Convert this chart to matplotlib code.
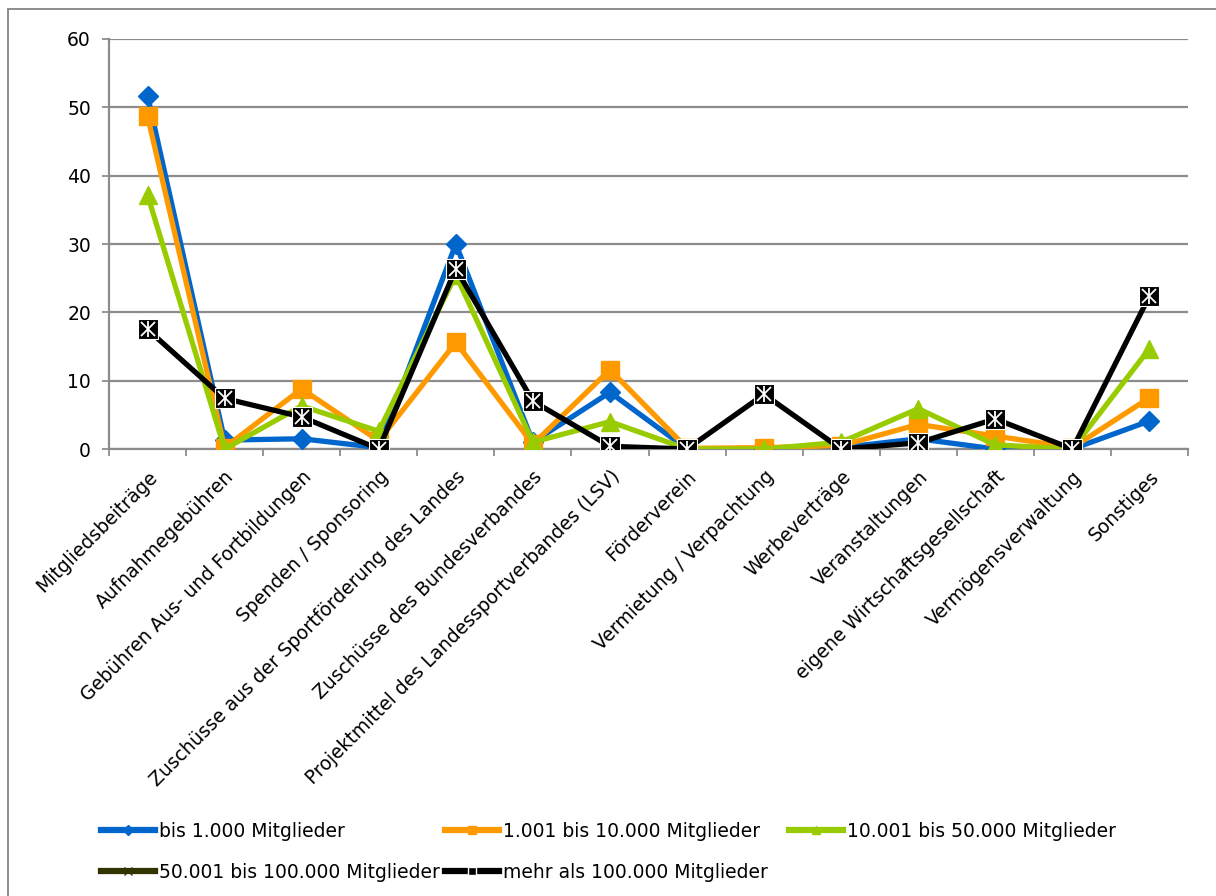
import numpy as np
import matplotlib
matplotlib.use("Agg")
import matplotlib.pyplot as plt
from matplotlib.lines import Line2D
from matplotlib.patches import Rectangle

plt.rcParams['font.family'] = ['DejaVu Sans']

categories = [
    "Mitgliedsbeiträge",
    "Aufnahmegebühren",
    "Gebühren Aus- und Fortbildungen",
    "Spenden / Sponsoring",
    "Zuschüsse aus der Sportförderung des Landes",
    "Zuschüsse des Bundesverbandes",
    "Projektmittel des Landessportverbandes (LSV)",
    "Förderverein",
    "Vermietung / Verpachtung",
    "Werbeverträge",
    "Veranstaltungen",
    "eigene Wirtschaftsgesellschaft",
    "Vermögensverwaltung",
    "Sonstiges",
]

bis_1000 = [51.7, 1.3, 1.5, 0.2, 30.0, 1.0, 8.3, 0.0, 0.0, 0.2, 1.5, 0.0, 0.0, 4.1]
bis_10000 = [48.7, 0.2, 8.8, 1.2, 15.6, 0.7, 11.6, 0.1, 0.2, 0.5, 3.6, 1.9, 0.2, 7.5]
bis_50000 = [37.2, 0.0, 6.3, 2.6, 25.5, 1.0, 4.0, 0.0, 0.0, 1.0, 5.9, 0.6, 0.0, 14.7]
bis_100000 = [np.nan] * 14
mehr_100000 = [17.5, 7.4, 4.7, 0.0, 26.4, 7.0, 0.4, 0.0, 8.0, 0.0, 0.9, 4.4, 0.0, 22.4]

series_labels = [
    "bis 1.000 Mitglieder",
    "1.001 bis 10.000 Mitglieder",
    "10.001 bis 50.000 Mitglieder",
    "50.001 bis 100.000 Mitglieder",
    "mehr als 100.000 Mitglieder",
]
y_ticks = [0, 10, 20, 30, 40, 50, 60]

FS = 13.5
GRID = "#8c8c8c"

fig = plt.figure(figsize=(12.16, 8.96), dpi=100)
ax = fig.add_axes([109 / 1216, 1 - 449 / 896, (1188 - 109) / 1216, (449 - 39) / 896])

x = np.arange(len(categories))
lw = 3.8

ax.plot(x, bis_1000, color="#0066CC", lw=lw, marker="D", ms=10,
        mfc="#0066CC", mec="#0066CC", zorder=3)
ax.plot(x, bis_10000, color="#FF9900", lw=lw, marker="s", ms=13.5,
        mfc="#FF9900", mec="#FF9900", zorder=4)
ax.plot(x, bis_50000, color="#99CC00", lw=lw, marker="^", ms=13.5,
        mfc="#99CC00", mec="#99CC00", zorder=5)
ax.plot(x, bis_100000, color="#333300", lw=lw, marker="x", ms=10, zorder=6)
ax.plot(x, mehr_100000, color="#000000", lw=lw, marker="s", ms=13.8,
        mfc="#000000", mec="white", mew=0.8, zorder=7)
# white cross and bar inside the black square markers
ax.plot(x, mehr_100000, ls="none", marker="x", ms=10.5, mec="white", mew=1.3, zorder=8)
ax.plot(x, mehr_100000, ls="none", marker="|", ms=11.5, mec="white", mew=1.3, zorder=8)

ax.set_xlim(-0.5, len(categories) - 0.5)
ax.set_ylim(0, 60)
ax.set_yticks(y_ticks)
ax.set_yticklabels([str(v) for v in y_ticks], fontsize=FS)
ax.yaxis.grid(True, color=GRID, lw=1.6)
ax.set_axisbelow(True)

ax.set_xticks(x)
ax.set_xticklabels(categories, rotation=45, ha="right", va="top",
                   rotation_mode="anchor", fontsize=FS)
ax.set_xticks(np.arange(-0.5, len(categories)), minor=True)
ax.tick_params(axis="x", which="major", length=0, pad=13)
ax.tick_params(axis="x", which="minor", length=5, width=1.3, color=GRID, direction="out")
ax.tick_params(axis="y", length=5, width=1.3, color=GRID, pad=8)

for s in ["top", "right"]:
    ax.spines[s].set_visible(False)
for s in ["left", "bottom"]:
    ax.spines[s].set_color(GRID)
    ax.spines[s].set_linewidth(1.6)

# legend handles: thick line with small marker
colors = ["#0066CC", "#FF9900", "#99CC00", "#333300", "#000000"]
markers = ["D", "s", "^", "x", "s"]
handles = []
for c, m in zip(colors, markers):
    handles.append(Line2D([], [], color=c, lw=4.5, marker=m, ms=5.5,
                          mfc=c, mec=("white" if c == "#000000" else c)))

legend_cols = [[0, 3], [1, 4], [2]]
col_x = [101 / 1216, 445 / 1216, 789 / 1216]
for cx, idx in zip(col_x, legend_cols):
    fig.legend([handles[i] for i in idx], [series_labels[i] for i in idx],
               loc="upper left", bbox_to_anchor=(cx, 1 - 822 / 896),
               frameon=False, fontsize=FS, handlelength=2.9,
               handletextpad=0.2, labelspacing=1.15, borderpad=0,
               borderaxespad=0)

# chart frame: only its top and left edges fall inside the image
fig.patches.append(Rectangle((8 / 1216, -0.1), 1.2, 1.1 - 9 / 896,
                             transform=fig.transFigure, fill=False,
                             edgecolor="#8c8c8c", lw=1.4, clip_on=False))

fig.savefig("out.png", dpi=100)
